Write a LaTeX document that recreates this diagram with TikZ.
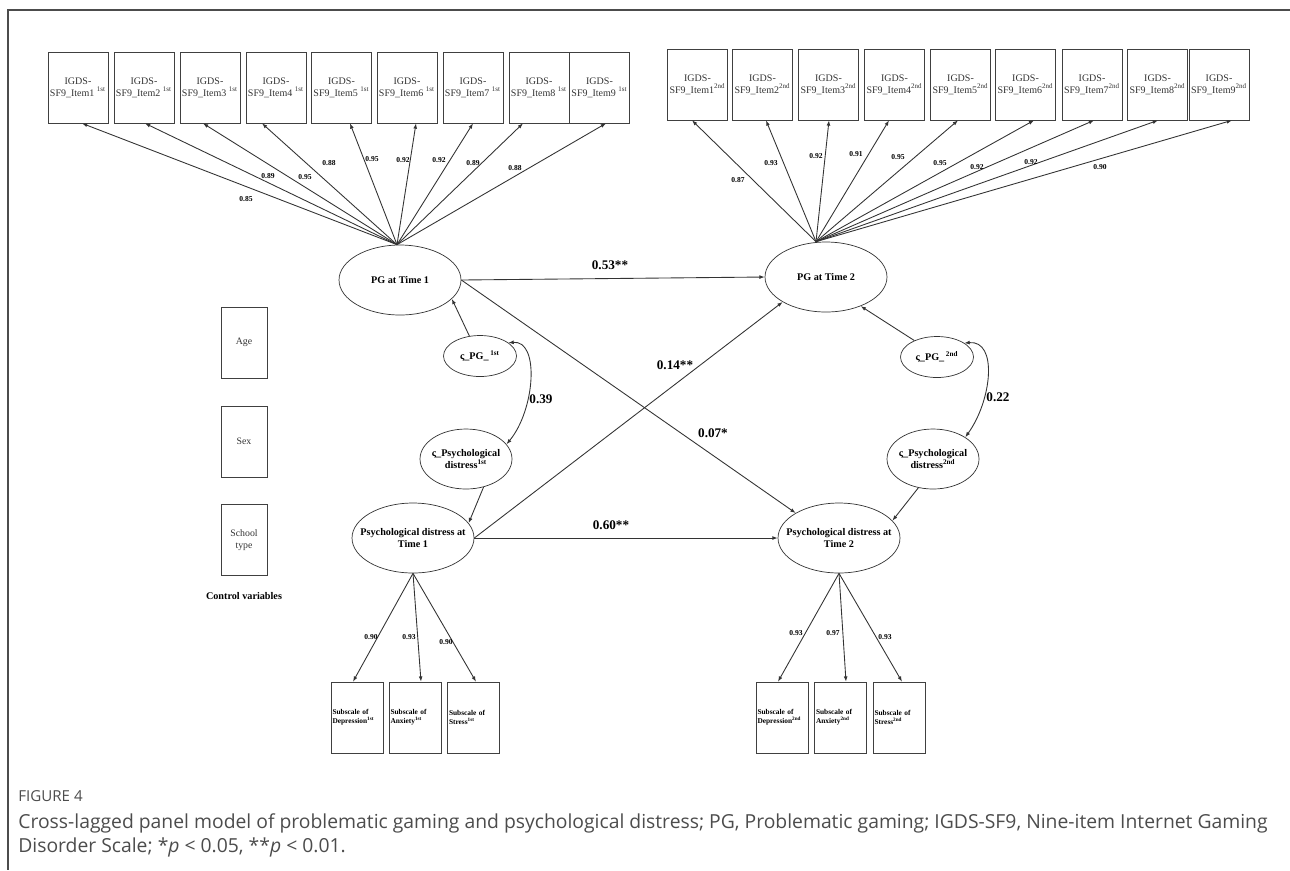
\documentclass[tikz,border=0pt]{standalone}
\usepackage{fontspec}
\setmainfont{Liberation Serif}
\newfontfamily\capfont{Open Sans}
\usetikzlibrary{arrows.meta,shapes.geometric}

\tikzset{
	itembox/.style={draw=black!75, rectangle, minimum width=1.2cm, minimum height=1.42cm, inner sep=0pt, align=center, text=black!80, font=\fontsize{5.7}{6.8}\selectfont},
	ctrlbox/.style={draw=black!75, rectangle, minimum width=0.92cm, minimum height=1.42cm, inner sep=0pt, align=center, text=black!80, font=\fontsize{5.6}{6.8}\selectfont},
	subbox/.style={draw=black!75, rectangle, minimum width=1.04cm, minimum height=1.42cm, text width=0.98cm, inner sep=0.6pt, align=left, font=\bfseries\fontsize{4.2}{5.2}\selectfont},
	latent/.style={draw=black!80, ellipse, minimum width=2.44cm, minimum height=1.4cm, inner sep=0pt},
	residA/.style={draw=black!80, ellipse, minimum width=1.46cm, minimum height=0.82cm, inner sep=0pt},
	residB/.style={draw=black!80, ellipse, minimum width=1.84cm, minimum height=1.2cm, inner sep=0pt},
	lattext/.style={align=center, inner sep=0pt, font=\bfseries\fontsize{5.8}{6.9}\selectfont},
	load/.style={inner sep=0pt, font=\bfseries\fontsize{4.3}{5}\selectfont},
	coef/.style={inner sep=0pt, font=\bfseries\fontsize{7.5}{9}\selectfont},
	reg/.style={->, >={Latex[length=3pt, width=2.2pt]}, line width=0.5pt, draw=black!80},
	cov/.style={<->, >={Latex[length=3pt, width=2.2pt]}, line width=0.5pt, draw=black!80}
}

\begin{document}
\begin{tikzpicture}[x=0.02cm, y=-0.02cm]
	\useasboundingbox (0,0) rectangle (1290,870);
	\draw[black!70, line width=0.8pt] (1290,10) -- (8,10) -- (8,870);

	% indicators at time 1 and time 2
	\foreach \i/\cx in {1/78, 2/144, 3/210, 4/276, 5/341.5, 6/407, 7/473, 8/539, 9/599.5}
		\node[itembox] (ia\i) at (\cx, 87.5) {IGDS-\\SF9\_Item\i\ \textsuperscript{1st}};
	\foreach \i/\cx in {1/697.5, 2/762.5, 3/828.5, 4/894.5, 5/960.5, 6/1025.5, 7/1092, 8/1157.5, 9/1219}
		\node[itembox] (ib\i) at (\cx, 84.5) {IGDS-\\SF9\_Item\i\textsuperscript{2nd}};

	% latent variables
	\node[latent, label={[lattext]center:PG at Time 1}] (pg1) at (400, 280) {};
	\node[latent, label={[lattext]center:PG at Time 2}] (pg2) at (826, 277) {};
	\node[latent, label={[lattext]center:{Psychological distress at\\Time 1}}] (psy1) at (413, 538) {};
	\node[latent, label={[lattext]center:{Psychological distress at\\Time 2}}] (psy2) at (839, 538) {};

	\node[residA, label={[lattext]center:ς\_PG\_\,\textsuperscript{1st}}] (zpg1) at (480, 356) {};
	\node[residA, label={[lattext]center:ς\_PG\_\,\textsuperscript{2nd}}] (zpg2) at (937, 357) {};
	\node[residB, label={[lattext]center:{ς\_Psychological\\distress\textsuperscript{1st}}}] (zpsy1) at (466, 459) {};
	\node[residB, label={[lattext]center:{ς\_Psychological\\distress\textsuperscript{2nd}}}] (zpsy2) at (933, 459) {};

	% control variables
	\node[ctrlbox] (age) at (244, 342.5) {Age};
	\node[ctrlbox] (sex) at (244, 441.5) {Sex};
	\node[ctrlbox] (school) at (244, 540) {School\\type};
	\node[lattext] (ctrl) at (244, 596) {Control variables};

	% subscales
	\node[subbox] (sa1) at (357, 717.5) {Subscale of\\Depression\textsuperscript{1st}};
	\node[subbox] (sa2) at (415, 717.5) {Subscale of\\Anxiety\textsuperscript{1st}};
	\node[subbox] (sa3) at (473.5, 717.5) {Subscale of\\Stress\textsuperscript{1st}};
	\node[subbox] (sb1) at (782, 717.5) {Subscale of\\Depression\textsuperscript{2nd}};
	\node[subbox] (sb2) at (840.5, 717.5) {Subscale of\\Anxiety\textsuperscript{2nd}};
	\node[subbox] (sb3) at (899, 717.5) {Subscale of\\Stress\textsuperscript{2nd}};

	% loadings
	\coordinate (ca) at ([xshift=-0.06cm]pg1.north);
	\coordinate (cb) at ([xshift=-0.2cm]pg2.north);
	\foreach \i/\dx in {1/4, 2/1, 3/-7, 4/-14, 5/8.5, 6/9, 7/0, 8/-16, 9/6.5}
		\draw[reg] (ca) -- ([xshift=\dx*0.02cm]ia\i.south);
	\foreach \i/\dx in {1/-5.5, 2/3.5, 3/0.5, 4/-5.5, 5/-2.5, 6/8.5, 7/2, 8/0.5, 9/13}
		\draw[reg] (cb) -- ([xshift=\dx*0.02cm]ib\i.south);
	\foreach \i/\dx in {1/-4, 2/6, 3/2.5}
		\draw[reg] (psy1.south) -- ([xshift=\dx*0.02cm]sa\i.north);
	\foreach \i/\dx in {1/-4, 2/5.5, 3/3}
		\draw[reg] (psy2.south) -- ([xshift=\dx*0.02cm]sb\i.north);

	\foreach \v/\lx/\ly [count=\k] in {0.85/246/199, 0.89/268/176, 0.95/305/177, 0.88/329/163, 0.95/372/159, 0.92/403/160, 0.92/439/160, 0.89/473/163, 0.88/515/168}
		\node[load] (la\k) at (\lx, \ly) {\v};
	\foreach \v/\lx/\ly [count=\k] in {0.87/738/180, 0.93/771/163, 0.92/816/156, 0.91/856/154, 0.95/898/157, 0.95/940/163, 0.92/977/167, 0.92/1031/162, 0.90/1100/167}
		\node[load] (lb\k) at (\lx, \ly) {\v};
	\foreach \v/\lx/\ly [count=\k] in {0.90/371/637, 0.93/409/637, 0.90/446/642}
		\node[load] (lc\k) at (\lx, \ly) {\v};
	\foreach \v/\lx/\ly [count=\k] in {0.93/796/633, 0.97/833/633, 0.93/885/637}
		\node[load] (ld\k) at (\lx, \ly) {\v};

	% structural paths
	\draw[reg] (pg1.east) -- (pg2.west);
	\draw[reg] (pg1.east) -- (psy2.north west);
	\draw[reg] (psy1.east) -- (pg2.south west);
	\draw[reg] (psy1.east) -- (psy2.west);
	\draw[reg] (zpg1.118) -- (pg1.-20);
	\draw[reg] (zpg2.144) -- (pg2.-40);
	\draw[reg] (zpsy1.-58) -- (psy1.15);
	\draw[reg] (zpsy2.-117) -- (psy2.18);
	\draw[cov] (zpg1.25) .. controls (540, 340) and (535, 410) .. (zpsy1.20);
	\draw[cov] (zpg2.27) .. controls (998, 340) and (992, 400) .. (zpsy2.34);

	\node[coef] (c53) at (610, 265) {0.53**};
	\node[coef] (c14) at (675, 365) {0.14**};
	\node[coef] (c07) at (713, 433) {0.07*};
	\node[coef] (c60) at (611, 525) {0.60**};
	\node[coef] (c39) at (541, 399) {0.39};
	\node[coef] (c22) at (998, 397) {0.22};

	% caption
	\node[anchor=base west, inner sep=0pt, text=black!70, font=\capfont\fontsize{8.6}{10}\selectfont] (fig) at (18, 801) {FIGURE 4};
	\node[anchor=base west, inner sep=0pt, text=black!70, font=\capfont\fontsize{11}{13}\selectfont] (cap1) at (18, 828) {Cross-lagged panel model of problematic gaming and psychological distress; PG, Problematic gaming; IGDS-SF9, Nine-item Internet Gaming};
	\node[anchor=base west, inner sep=0pt, text=black!70, font=\capfont\fontsize{11}{13}\selectfont] (cap2) at (18, 852) {Disorder Scale; *\textit{p} < 0.05, **\textit{p} < 0.01.};
\end{tikzpicture}
\end{document}
